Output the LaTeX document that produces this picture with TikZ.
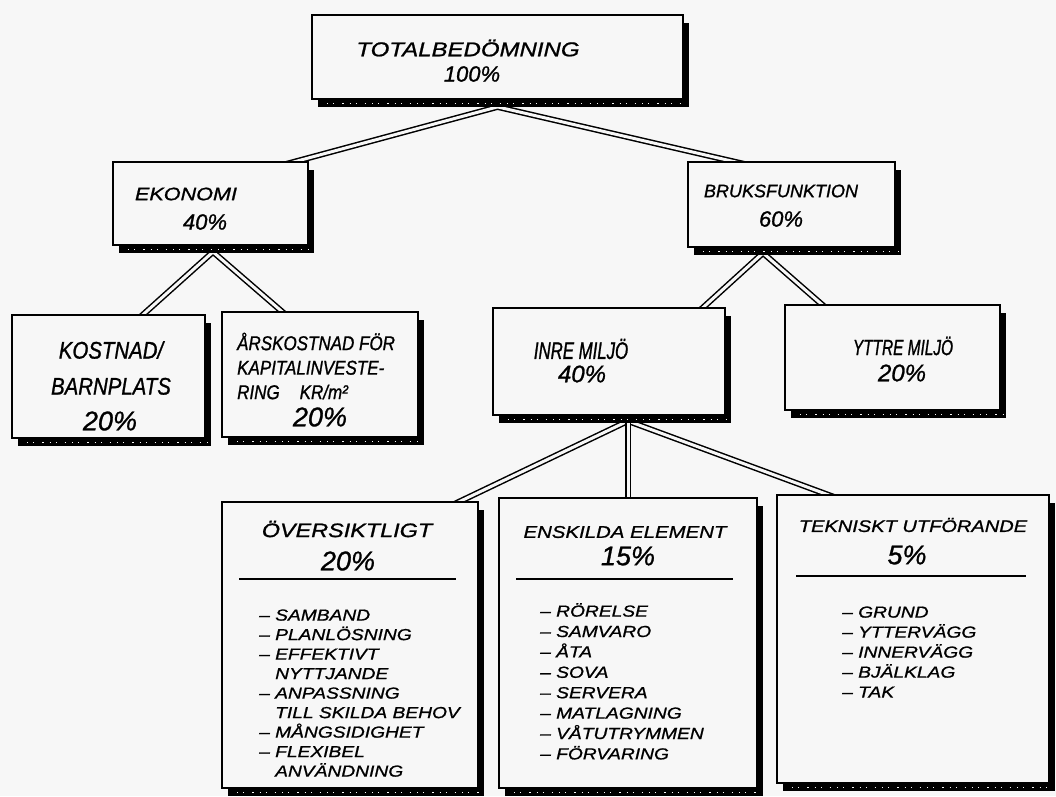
\documentclass[tikz,border=0pt]{standalone}
\usepackage{fontspec}
\setmainfont{Liberation Sans}
\newfontfamily\handN{Liberation Sans}[FakeBold=1]
\newfontfamily\handW{Liberation Sans}[FakeStretch=1.2,FakeBold=1]
\newfontfamily\handC{Liberation Sans}[FakeStretch=0.85,FakeBold=1]
\newfontfamily\handX{Liberation Sans}[FakeStretch=0.7,FakeBold=1]
\usetikzlibrary{calc,backgrounds}
\definecolor{paper}{RGB}{247,247,247}
\newcommand\myspeck[1]{\draw[paper, line width=1pt, dash pattern=on 1.2pt off 5pt on 0.8pt off 8pt on 1.5pt off 6pt] ($(#1.south west)+(16,3.8)$) -- ($(#1.south east)+(3,3.8)$);}
\tikzset{
  box/.style={draw=black, line width=1.8pt, fill=paper, inner sep=0pt,
    preaction={fill=black, transform canvas={xshift=5.5pt,yshift=-7.5pt}}},
  conn/.style={draw=black, line width=1.5pt, double=paper, double distance=3pt, line join=miter},
  rulel/.style={draw=black, line width=1.7pt},
  ttl/.style={inner sep=0pt, align=center, font=\handW\itshape\fontsize{18}{22}\selectfont},
  pct/.style={inner sep=0pt, align=center, font=\handN\itshape\fontsize{22}{26}\selectfont},
  bigpct/.style={inner sep=0pt, align=center, font=\handN\itshape\fontsize{27}{30}\selectfont},
  lst/.style={inner sep=0pt, align=left, anchor=north west, font=\handW\itshape\fontsize{16}{19.5}\selectfont},
}
\begin{document}
\begin{tikzpicture}[x=1pt,y=-1pt]
\useasboundingbox (0,0) rectangle (1056,796);
% boxes
\node[box, minimum width=371pt, minimum height=84pt] (total) at (497.5,57) {};
\node[box, minimum width=195pt, minimum height=83pt] (ekon) at (210.5,203.5) {};
\node[box, minimum width=207pt, minimum height=85pt] (bruks) at (791.5,204.5) {};
\node[box, minimum width=193pt, minimum height=123pt] (kost) at (108.5,376.5) {};
\node[box, minimum width=196pt, minimum height=125pt] (ars) at (320,374.5) {};
\node[box, minimum width=232pt, minimum height=107pt] (inre) at (609,361.5) {};
\node[box, minimum width=215pt, minimum height=105pt] (yttre) at (892.5,357.5) {};
\node[box, minimum width=256pt, minimum height=286pt] (overs) at (350,645) {};
\node[box, minimum width=258pt, minimum height=290pt] (ensk) at (628,643) {};
\node[box, minimum width=272pt, minimum height=288pt] (tekn) at (913,639) {};
\foreach \b in {total,ekon,bruks,kost,ars,inre,yttre,overs,ensk,tekn}{\myspeck{\b}}
% junctions and entry points
\coordinate (jTot) at ($(total.south)+(0,7)$);
\coordinate (ekonIn) at ($(ekon.north west)+(170,4)$);
\coordinate (bruksIn) at ($(bruks.north west)+(62,4)$);
\coordinate (jEkon) at ($(ekon.south)+(2.5,6)$);
\coordinate (kostIn) at ($(kost.north west)+(128,4)$);
\coordinate (arsIn) at ($(ars.north west)+(65,4)$);
\coordinate (jBruks) at (763,253);
\coordinate (inreIn) at ($(inre.north west)+(207,4)$);
\coordinate (yttreIn) at ($(yttre.north west)+(42,4)$);
\coordinate (jInre) at (628,421);
\coordinate (oversIn) at ($(overs.north west)+(231,4)$);
\coordinate (enskIn) at (ensk.north -| jInre);
\coordinate (teknIn) at ($(tekn.north west)+(61,4)$);
\begin{pgfonlayer}{background}
\fill[paper] (0,0) rectangle (1056,796);
\draw[conn] (ekonIn) -- (jTot) -- (bruksIn);
\draw[conn] (kostIn) -- (jEkon) -- (arsIn);
\draw[conn] (inreIn) -- (jBruks) -- (yttreIn);
\draw[conn] (oversIn) -- (jInre) -- (teknIn);
\draw[conn] (jInre) -- ($(enskIn)+(0,4)$);
\end{pgfonlayer}
% texts top
\node[ttl, font=\handW\itshape\fontsize{20}{24}\selectfont] (totalT) at (468,48) {TOTALBEDÖMNING};
\node[pct] (totalP) at (472,74) {100\%};
\node[ttl] (ekonT) at (186,194) {EKONOMI};
\node[pct] (ekonP) at (205,222) {40\%};
\node[ttl, font=\handN\itshape\fontsize{18}{22}\selectfont] (bruksT) at (781,191) {BRUKSFUNKTION};
\node[pct] (bruksP) at (781,219) {60\%};
% second row
\node[inner sep=0pt, align=center, font=\handC\itshape\fontsize{24}{36}\selectfont] (kostT) at (111,368) {KOSTNAD/\\BARNPLATS};
\node[bigpct] (kostP) at (110,421) {20\%};
\node[inner sep=0pt, align=left, anchor=west, font=\handC\itshape\fontsize{20}{24.5}\selectfont] (arsT) at (237,366) {ÅRSKOSTNAD FÖR\\KAPITALINVESTE-\\RING\quad KR/m²};
\node[bigpct] (arsP) at (320,417) {20\%};
\node[inner sep=0pt, align=center, font=\handX\itshape\fontsize{24}{24}\selectfont] (inreT) at (581,349) {INRE MILJÖ};
\node[pct, font=\handN\itshape\fontsize{24}{26}\selectfont] (inreP) at (582,374) {40\%};
\node[inner sep=0pt, align=center, font=\handX\itshape\fontsize{22}{24}\selectfont] (yttreT) at (903,346) {YTTRE MILJÖ};
\node[pct, font=\handN\itshape\fontsize{24}{26}\selectfont] (yttreP) at (902,373) {20\%};
% bottom row headers
\node[ttl, font=\handW\itshape\fontsize{19.5}{22}\selectfont] (oversT) at (347,529) {ÖVERSIKTLIGT};
\node[bigpct] (oversP) at (348,561) {20\%};
\draw[rulel] ($(overs.north west)+(18,78)$) -- ($(overs.north east)+(-23,78)$);
\node[ttl, font=\handW\itshape\fontsize{17}{22}\selectfont] (enskT) at (625,532) {ENSKILDA ELEMENT};
\node[bigpct] (enskP) at (628,556) {15\%};
\draw[rulel] ($(ensk.north west)+(18,82)$) -- ($(ensk.north east)+(-25,82)$);
\node[ttl, font=\handW\itshape\fontsize{16.7}{22}\selectfont] (teknT) at (913,525) {TEKNISKT UTFÖRANDE};
\node[bigpct] (teknP) at (907,555) {5\%};
\draw[rulel] ($(tekn.north west)+(20,82)$) -- ($(tekn.north east)+(-24,82)$);
% lists
\node[lst] (oversL) at (259,607) {\vphantom{Ö}– SAMBAND\\– PLANLÖSNING\\– EFFEKTIVT\\\phantom{– }NYTTJANDE\\– ANPASSNING\\\phantom{– }TILL SKILDA BEHOV\\– MÅNGSIDIGHET\\– FLEXIBEL\\\phantom{– }ANVÄNDNING};
\node[lst, font=\handW\itshape\fontsize{16}{20.4}\selectfont] (enskL) at (540,603) {– RÖRELSE\\– SAMVARO\\– ÅTA\\– SOVA\\– SERVERA\\– MATLAGNING\\– VÅTUTRYMMEN\\– FÖRVARING};
\node[lst, font=\handW\itshape\fontsize{16}{20}\selectfont] (teknL) at (842,604) {\vphantom{Ö}– GRUND\\– YTTERVÄGG\\– INNERVÄGG\\– BJÄLKLAG\\– TAK};
\end{tikzpicture}
\end{document}
